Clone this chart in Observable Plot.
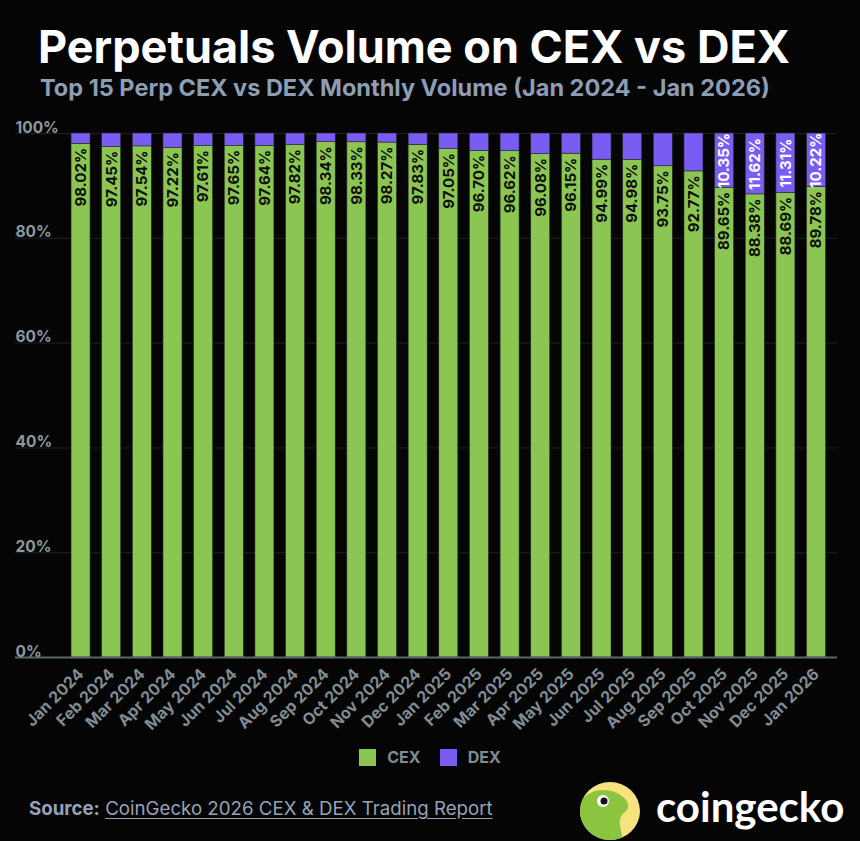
<!DOCTYPE html>
<html><head><meta charset="utf-8">
<script src="https://cdn.jsdelivr.net/npm/d3@7"></script>
<script src="https://cdn.jsdelivr.net/npm/@observablehq/plot@0.6"></script>
<style>
html,body{margin:0;padding:0;background:#050505;}
#wrap{position:relative;width:860px;height:841px;overflow:hidden;background:#050505;font-family:Inter,Roboto,sans-serif;}
.title{position:absolute;left:38px;top:24px;font:700 45px/1 Inter,sans-serif;color:#fff;white-space:nowrap;}
.subtitle{position:absolute;left:40px;top:76px;font:700 23.5px/1 Inter,sans-serif;color:#8c9db4;white-space:nowrap;}
#chart{position:absolute;left:0;top:100px;}
.legend{position:absolute;left:0;width:860px;top:749px;display:flex;justify-content:center;gap:19px;font:700 16px/17px Inter,sans-serif;color:#7f8c95;}
.legend span{display:inline-flex;align-items:center;}
.legend i{display:inline-block;width:17px;height:17px;margin-right:11px;}
.source{position:absolute;left:29px;top:800px;font:400 18.7px/1 Inter,sans-serif;color:#94a3b8;white-space:nowrap;}
.source b{font-weight:700;}
.source u{text-decoration:underline;text-underline-offset:3px;}
.logo{position:absolute;left:579px;top:781px;}
.logotext{position:absolute;left:656px;top:785px;font:700 42px/1 Lato,sans-serif;color:#fff;white-space:nowrap;}
</style></head>
<body>
<div id="wrap">
  <div class="title">Perpetuals Volume on CEX vs DEX</div>
  <div class="subtitle">Top 15 Perp CEX vs DEX Monthly Volume (Jan 2024 - Jan 2026)</div>
  <div id="chart"></div>
  <div class="legend" id="legend"></div>
  <div class="source"><b>Source:</b> <u>CoinGecko 2026 CEX &amp; DEX Trading Report</u></div>
  <svg class="logo" width="62" height="60" viewBox="0 0 62 60">
    <defs><clipPath id="cc"><ellipse cx="31" cy="30" rx="30" ry="29"/></clipPath></defs>
    <ellipse cx="31" cy="30" rx="30" ry="29" fill="#f6e27f"/>
    <g clip-path="url(#cc)">
      <path d="M0,22 C6,14 14,9 24,9 C34,9 42,13 47,19 C50,23 50,28 46,31 C42,34 40,38 41,44 C42,50 43,55 44,62 L0,62 Z" fill="#8bc53f"/>
    </g>
    <circle cx="24" cy="20" r="6" fill="#fff"/>
    <circle cx="25" cy="20" r="3.5" fill="#111"/>
  </svg>
  <div class="logotext">coingecko</div>
</div>
<script>
const months = ["Jan 2024","Feb 2024","Mar 2024","Apr 2024","May 2024","Jun 2024","Jul 2024","Aug 2024","Sep 2024","Oct 2024","Nov 2024","Dec 2024","Jan 2025","Feb 2025","Mar 2025","Apr 2025","May 2025","Jun 2025","Jul 2025","Aug 2025","Sep 2025","Oct 2025","Nov 2025","Dec 2025","Jan 2026"];
const cex = [98.02,97.45,97.54,97.22,97.61,97.65,97.64,97.82,98.34,98.33,98.27,97.83,97.05,96.70,96.62,96.08,96.15,94.99,94.98,93.75,92.77,89.65,88.38,88.69,89.78];
const dex = [1.98,2.55,2.46,2.78,2.39,2.35,2.36,2.18,1.66,1.67,1.73,2.17,2.95,3.30,3.38,3.92,3.85,5.01,5.02,6.25,7.23,10.35,11.62,11.31,10.22];
const seriesNames = ["CEX","DEX"];
const seriesColors = ["#8bc652","#7b5cf3"];
const yTicks = [0,20,40,60,80,100];

const rows = [];
months.forEach((m,i)=>{
  rows.push({month:m, series:"CEX", value:cex[i]});
  rows.push({month:m, series:"DEX", value:dex[i]});
});
const cexRows = rows.filter(d=>d.series==="CEX");

const plot = Plot.plot({
  width: 860, height: 640,
  marginTop: 33, marginBottom: 83, marginLeft: 15, marginRight: 23,
  style: {background: "transparent", overflow: "visible"},
  x: {domain: months, range: [59.4, 837.2], padding: 0.38, round: false, label: null},
  y: {domain: [0,100], axis: null},
  color: {domain: seriesNames, range: seriesColors},
  marks: [
    Plot.ruleY(yTicks.filter(d=>d>0), {stroke: "#1f2122", strokeWidth: 1}),
    Plot.barY(rows, {x: "month", y: "value", fill: "series", stroke: "#2a2a2a", strokeWidth: 0.6}),
    Plot.ruleY([0], {stroke: "#5d676e", strokeWidth: 2}),
    Plot.text(yTicks, {y: d=>d, text: d=>d+"%", frameAnchor: "left", textAnchor: "start", lineAnchor: "bottom", dy: -1, fill: "#8d989f", fontSize: 15.5, fontWeight: 700, fontFamily: "Inter, sans-serif"}),
    Plot.text(cexRows, {x: "month", y: "value", text: d=>d.value.toFixed(2)+"%", rotate: -90, textAnchor: "end", dy: 4, fill: "#0d0d0d", fontSize: 15, fontWeight: 700, fontFamily: "Inter, sans-serif"}),
    Plot.text(rows, Plot.stackY({x: "month", y: "value", text: d=> (d.series==="DEX" && d.value>10) ? d.value.toFixed(2)+"%" : "", rotate: -90, fill: "#fff", fontSize: 15, fontWeight: 700, fontFamily: "Inter, sans-serif"})),
    Plot.axisX({tickRotate: -45, tickSize: 0, tickPadding: 14, fontSize: 16, fontWeight: 700, fill: "#808c93", fontFamily: "Inter, sans-serif", label: null})
  ]
});
document.getElementById("chart").appendChild(plot);

const lg = document.getElementById("legend");
seriesNames.forEach((s,i)=>{
  const sp = document.createElement("span");
  sp.innerHTML = `<i style="background:${seriesColors[i]}"></i>${s}`;
  lg.appendChild(sp);
});
</script>
</body></html>
